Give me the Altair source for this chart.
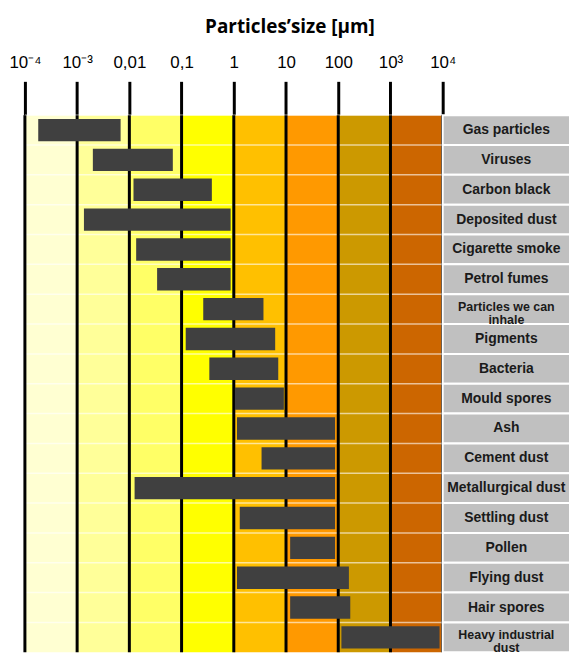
import altair as alt
import pandas as pd

categories = ["Gas particles", "Viruses", "Carbon black", "Deposited dust",
              "Cigarette smoke", "Petrol fumes", "Particles we can\ninhale",
              "Pigments", "Bacteria", "Mould spores", "Ash", "Cement dust",
              "Metallurgical dust", "Settling dust", "Pollen", "Flying dust",
              "Hair spores", "Heavy industrial\ndust"]
size_min = [0.00018, 0.0020, 0.012, 0.00135, 0.0135, 0.034, 0.26, 0.12, 0.34,
            1.05, 1.15, 3.4, 0.0126, 1.3, 12, 1.15, 12, 115]
size_max = [0.0068, 0.068, 0.38, 0.87, 0.87, 0.87, 3.7, 6.2, 7.1,
            9.1, 87, 87, 87, 87, 87, 160, 170, 8700]

tick_values = [1e-4, 1e-3, 1e-2, 1e-1, 1, 10, 100, 1e3, 1e4]
tick_labels = ["10⁻⁴", "10⁻³", "0,01", "0,1", "1", "10", "100", "10³", "10⁴"]

band_lo = [1e-4, 1e-3, 1e-2, 1e-1, 1, 10, 100, 1e3]
band_hi = [1e-3, 1e-2, 1e-1, 1, 10, 100, 1e3, 1e4]
band_colors = ["#FFFFD2", "#FFFF99", "#FFFF66", "#FFFF00",
               "#FFC000", "#FF9900", "#CC9900", "#CC6600"]

bars = pd.DataFrame({"cat": categories, "lo": size_min, "hi": size_max})
bands = pd.DataFrame({"lo": band_lo, "hi": band_hi, "c": band_colors})
ticks = pd.DataFrame({"v": tick_values})
rows = pd.DataFrame({"cat": categories})

W, H = 420, 540
label_expr = "[" + ",".join("'%s'" % t for t in tick_labels) + "][round(log(datum.value)/LN10)+4]"

xscale = alt.Scale(type="log", domain=[1e-4, 1e4], nice=False)
yscale = alt.Scale(domain=categories, paddingInner=0, paddingOuter=0)

xaxis = alt.Axis(orient="top", values=tick_values, labelExpr=label_expr,
                 tickSize=34, tickWidth=3, tickColor="black", domain=False,
                 grid=False, title=None, labelFontSize=17, labelFont="Liberation Sans",
                 labelColor="black", labelPadding=10, labelFlush=False, labelOverlap=False)

band_layer = alt.Chart(bands).mark_rect().encode(
    x=alt.X("lo:Q", scale=xscale, axis=xaxis),
    x2="hi:Q",
    fill=alt.Fill("c:N", scale=None),
)
sep_layer = alt.Chart(rows).mark_rule(color="white", strokeWidth=1.5, opacity=0.6).encode(
    y=alt.Y("cat:N", scale=yscale, axis=None, bandPosition=0, sort=categories),
)
vline_layer = alt.Chart(ticks).mark_rule(color="black", strokeWidth=3).encode(
    x=alt.X("v:Q", scale=xscale),
)
bar_layer = alt.Chart(bars).mark_bar(color="#404040", height=alt.RelativeBandSize(0.75)).encode(
    x=alt.X("lo:Q", scale=xscale),
    x2="hi:Q",
    y=alt.Y("cat:N", scale=yscale, axis=None, sort=categories),
)

main = alt.layer(band_layer, sep_layer, vline_layer, bar_layer).properties(width=W, height=H)

two_line = "indexof(datum.cat, '\\n') >= 0"
lab_rect = alt.Chart(rows).mark_rect(fill="#C0C0C0", stroke="white", strokeWidth=2).encode(
    y=alt.Y("cat:N", scale=yscale, axis=None, sort=categories),
)
lab_text1 = alt.Chart(rows).transform_filter("!(" + two_line + ")").mark_text(
    font="Liberation Sans", fontWeight="bold", fontSize=14, color="#1a1a1a", align="center",
).encode(
    y=alt.Y("cat:N", scale=yscale, axis=None, sort=categories),
    text="cat:N",
)
lab_text2 = alt.Chart(rows).transform_filter(two_line).mark_text(
    font="Liberation Sans", fontWeight="bold", fontSize=12.5, color="#1a1a1a", align="center",
    lineBreak="\n", lineHeight=13, dy=-2,
).encode(
    y=alt.Y("cat:N", scale=yscale, axis=None, sort=categories),
    text="cat:N",
)
labels = alt.layer(lab_rect, lab_text1, lab_text2).properties(width=128, height=H)

chart = alt.hconcat(main, labels, spacing=0, bounds="flush").properties(
    title=alt.TitleParams("Particles’size [µm]", anchor="middle", fontSize=19,
                          font="Open Sans", fontWeight="bold", color="black", offset=17),
    padding={"left": 0, "top": 8, "right": 0, "bottom": 0},
).configure_view(stroke=None)

chart.save("out.html", embed_options={"renderer": "svg", "actions": False})
